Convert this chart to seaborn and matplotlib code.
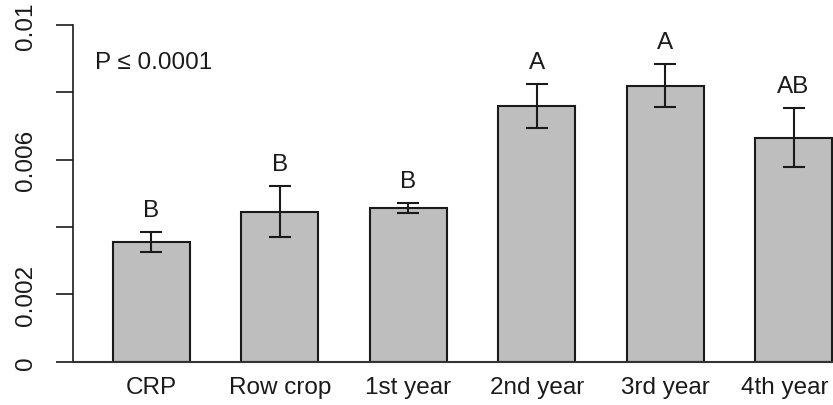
import numpy as np
import pandas as pd
import matplotlib
matplotlib.use("Agg")
import matplotlib.pyplot as plt
import matplotlib.transforms as mtransforms
import seaborn as sns

categories = ["CRP", "Row crop", "1st year", "2nd year", "3rd year", "4th year"]
means = [0.00356, 0.00446, 0.00456, 0.00760, 0.00820, 0.00665]
se = [0.00030, 0.00076, 0.00015, 0.00065, 0.00065, 0.00088]
letters = ["B", "B", "B", "A", "A", "AB"]
ytick_values = [0, 0.002, 0.004, 0.006, 0.008, 0.01]
ytick_labels = ["0", "0.002", "", "0.006", "", "0.01"]
pval_text = "P \u2264 0.0001"

sns.set_style("ticks")
plt.rcParams["font.family"] = ["Liberation Sans", "DejaVu Sans"]

FS = 17.5
ink = "#1a1a1a"

fig = plt.figure(figsize=(8.33, 4.06), dpi=100)
ax = fig.add_axes([73 / 833, 1 - 362.7 / 406, 760 / 833, (362.7 - 26) / 406])

df = pd.DataFrame({"cat": categories, "mean": means})
sns.barplot(data=df, x="cat", y="mean", color="#BEBEBE", saturation=1,
            edgecolor=ink, linewidth=1.5, width=0.6, errorbar=None, ax=ax)

xpos = np.arange(len(categories))
ax.errorbar(xpos, means, yerr=se, fmt="none", ecolor=ink, elinewidth=1.5,
            capsize=8.2, capthick=1.5, zorder=5)

for i, lab in enumerate(letters):
    ax.annotate(lab, (xpos[i], means[i] + se[i]), xytext=(0, 11.5),
                textcoords="offset points", ha="center", va="baseline",
                fontsize=FS, color=ink, annotation_clip=False)

ax.set_xlim(-0.611, 5.307)
ax.set_ylim(0, 0.01)
ax.set_yticks(ytick_values)
ax.set_yticklabels(ytick_labels, rotation=90, va="center", fontsize=FS, color=ink)
ax.tick_params(axis="y", length=12, width=1.2, color=ink, pad=14)
ax.tick_params(axis="x", length=0, pad=10, labelsize=FS, labelcolor=ink)
ax.set_xlabel("")
ax.set_ylabel("")

# nudge the last category label so it stays inside the figure, as in the reference
last = ax.get_xticklabels()[-1]
last.set_transform(last.get_transform() +
                   mtransforms.ScaledTranslation(-9 / 100, 0, fig.dpi_scale_trans))

for s in ["top", "right"]:
    ax.spines[s].set_visible(False)
ax.spines["left"].set_linewidth(1.2)
ax.spines["left"].set_color(ink)
ax.spines["bottom"].set_linewidth(1.5)
ax.spines["bottom"].set_color("#333333")

fig.text(95 / 833, 1 - 69.3 / 406, pval_text, fontsize=FS, color=ink,
         ha="left", va="baseline")

fig.savefig("out.png", dpi=100)
